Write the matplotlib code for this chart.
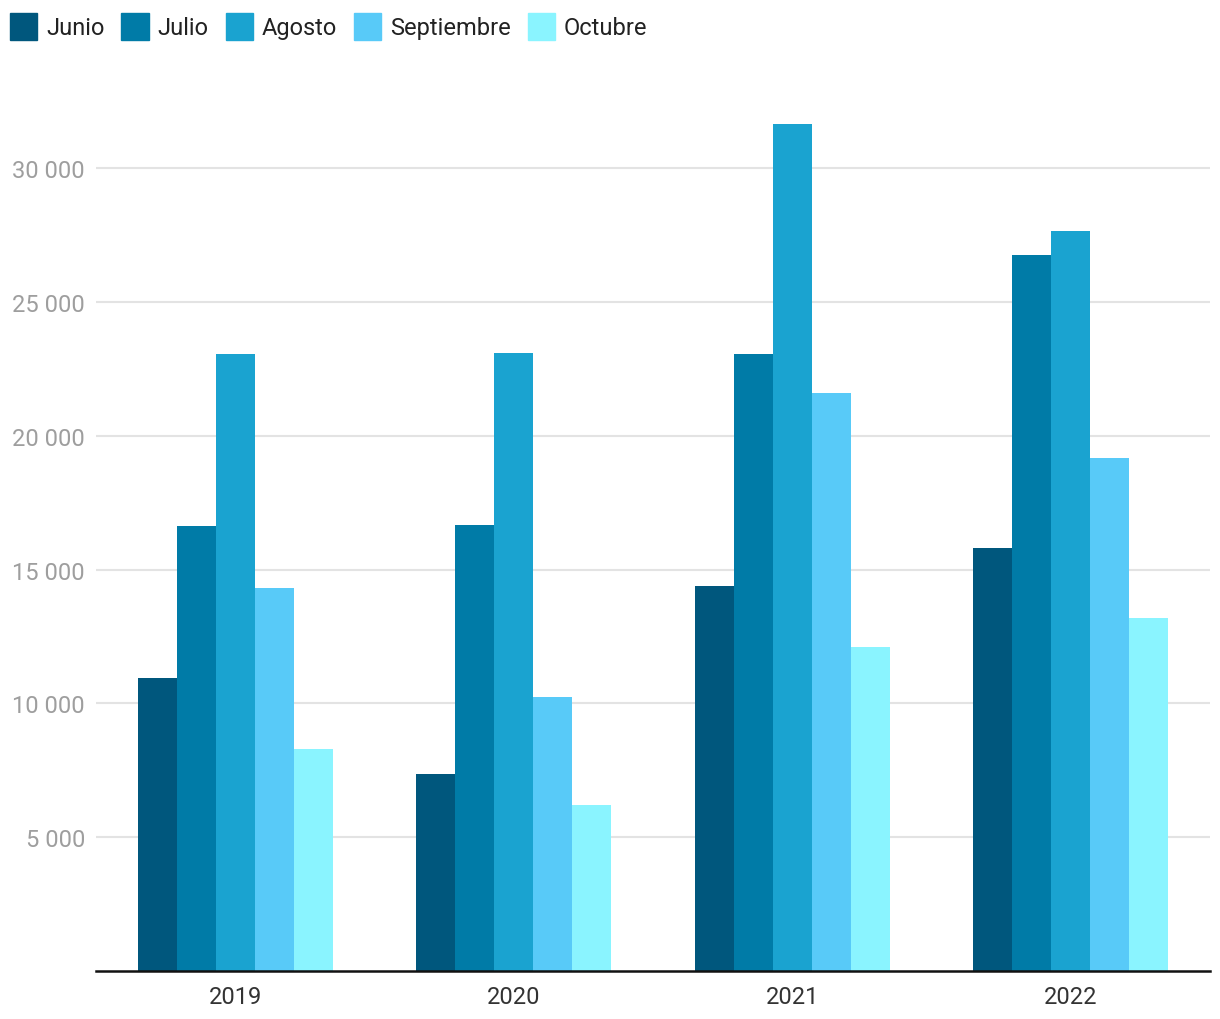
import numpy as np
import matplotlib.pyplot as plt
from matplotlib.patches import Patch
from matplotlib.ticker import FuncFormatter

plt.rcParams['font.family'] = ['Roboto', 'DejaVu Sans']

years = ['2019', '2020', '2021', '2022']
months = ['Junio', 'Julio', 'Agosto', 'Septiembre', 'Octubre']
colors = ['#00577d', '#007ba7', '#1aa3d0', '#58caf8', '#8af4ff']

junio = [10950, 7360, 14380, 15800]
julio = [16630, 16660, 23050, 26750]
agosto = [23050, 23090, 31640, 27650]
septiembre = [14310, 10240, 21590, 19170]
octubre = [8290, 6200, 12100, 13190]
series = [junio, julio, agosto, septiembre, octubre]

fig = plt.figure(figsize=(12.2, 10.2), dpi=100)
ax = fig.add_axes([96 / 1220, 48 / 1020, 1114 / 1220, 883.3 / 1020])

x = np.arange(len(years))
w = 0.14
for i, (name, vals) in enumerate(zip(months, series)):
    ax.bar(x + (i - 2) * w, vals, w, color=colors[i], label=name, zorder=3)

ax.set_xlim(-0.5, 3.5)
ax.set_ylim(0, 33000)
ax.set_yticks([5000, 10000, 15000, 20000, 25000, 30000])
ax.yaxis.set_major_formatter(FuncFormatter(lambda v, p: f'{int(v):,}'.replace(',', ' ')))
ax.grid(axis='y', color='#e3e3e3', linewidth=1.5, zorder=0)
ax.set_xticks(x)
ax.set_xticklabels(years)

for s in ['top', 'right', 'left']:
    ax.spines[s].set_visible(False)
ax.spines['bottom'].set_color('#111111')
ax.spines['bottom'].set_linewidth(1.8)
ax.spines['bottom'].set_zorder(4)

ax.tick_params(axis='y', length=0, labelsize=17, labelcolor='#9e9e9e', pad=8)
ax.tick_params(axis='x', length=0, labelsize=17, labelcolor='#333333', pad=10)

handles = [Patch(color=c) for c in colors]
fig.legend(handles, months, loc='upper left', bbox_to_anchor=(0.0, 0.996),
           ncol=5, frameon=False, fontsize=17, handlelength=1.15, handleheight=1.4,
           handletextpad=0.38, columnspacing=0.72, borderaxespad=0, borderpad=0.42,
           labelcolor='#222222')

fig.savefig('out.png', dpi=100, facecolor='white')
